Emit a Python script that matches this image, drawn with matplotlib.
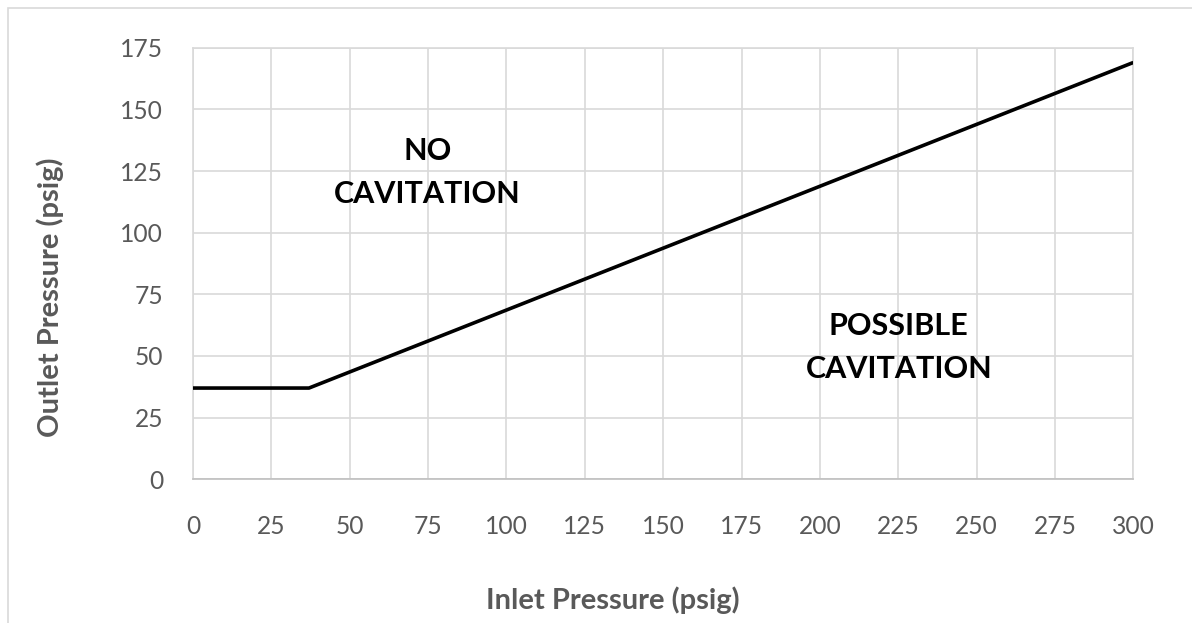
import matplotlib.pyplot as plt
from matplotlib.patches import Rectangle

# data
inlet = [0, 37, 300]
outlet = [37, 37, 169]
x_ticks = list(range(0, 301, 25))
y_ticks = list(range(0, 176, 25))

plt.rcParams['font.family'] = ['Lato', 'DejaVu Sans']

fig = plt.figure(figsize=(11.92, 6.23), dpi=100)
ax = fig.add_axes([193 / 1192, 1 - 479.3 / 623, (1133.3 - 193) / 1192, (479.3 - 47.7) / 623])

ax.plot(inlet, outlet, color='black', linewidth=2.6, solid_capstyle='butt', zorder=3)

ax.set_xlim(0, 300)
ax.set_ylim(0, 175)
ax.set_xticks(x_ticks)
ax.set_yticks(y_ticks)
ax.grid(True, color='#d9d9d9', linewidth=1.2)
ax.set_axisbelow(True)
for side in ['top', 'right', 'left']:
    ax.spines[side].set_color('#d9d9d9')
    ax.spines[side].set_linewidth(1.2)
ax.spines['bottom'].set_color('#bfbfbf')
ax.spines['bottom'].set_linewidth(1.2)
ax.tick_params(length=0, labelsize=17.7, colors='#595959')
ax.tick_params(axis='x', pad=26)
ax.tick_params(axis='y', pad=21.5)

ax.text(74.8, 124.4, 'NO\nCAVITATION', ha='center', va='center', fontsize=22,
        fontweight='bold', linespacing=1.65)
ax.text(225.2, 53.4, 'POSSIBLE\nCAVITATION', ha='center', va='center', fontsize=22,
        fontweight='bold', linespacing=1.65)

fig.text(613 / 1192, 1 - 600 / 623, 'Inlet Pressure (psig)', ha='center', va='center',
         fontsize=21, fontweight='bold', color='#595959')
fig.text(50 / 1192, 1 - 297 / 623, 'Outlet Pressure (psig)', ha='center', va='center',
         rotation=90, fontsize=21, fontweight='bold', color='#595959')

# chart outer frame
fig.patches.append(Rectangle((8 / 1192, -0.1), 1.2, 1 - 8 / 623 + 0.1, transform=fig.transFigure,
                             fill=False, edgecolor='#d9d9d9', linewidth=1.2))

fig.savefig('out.png', dpi=100)
